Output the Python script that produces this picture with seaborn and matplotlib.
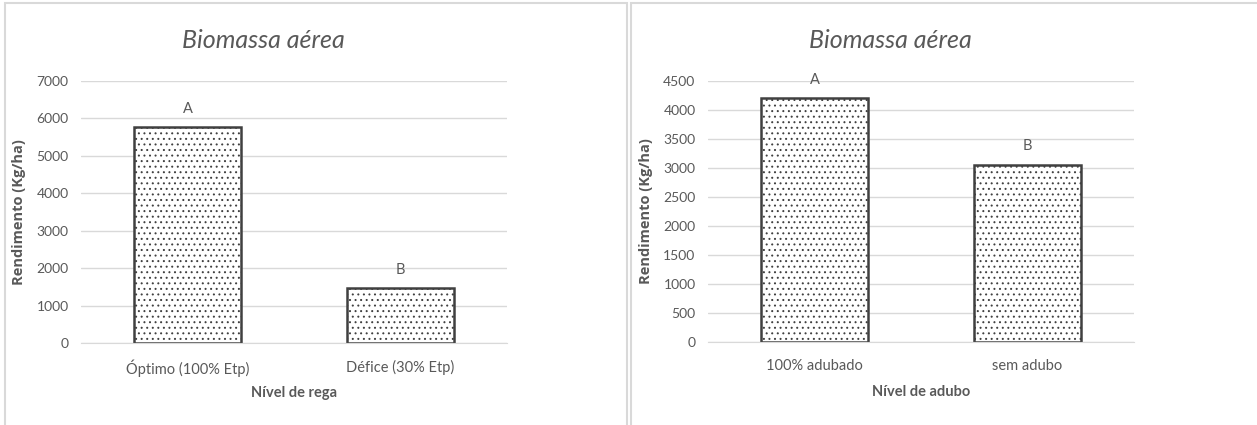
import pandas as pd
import matplotlib.pyplot as plt
import seaborn as sns
from matplotlib.patches import Rectangle

# dados
rega_niveis = ['Óptimo (100% Etp)', 'Défice (30% Etp)']
rega_valores = [5780, 1470]
rega_letras = ['A', 'B']

adubo_niveis = ['100% adubado', 'sem adubo']
adubo_valores = [4200, 3060]
adubo_letras = ['A', 'B']

sns.set_style('white')
plt.rcParams['font.family'] = ['Lato', 'DejaVu Sans']
plt.rcParams['hatch.linewidth'] = 0.7
cinza = '#595959'
grelha = '#d9d9d9'

fig = plt.figure(figsize=(12.57, 4.25), dpi=100)

# molduras dos dois gráficos
fig.patches.append(Rectangle((5 / 1257, -0.01), 622 / 1257, 1 - 3 / 425 + 0.01,
                             transform=fig.transFigure, fill=False,
                             edgecolor=grelha, lw=1.5))
fig.patches.append(Rectangle((631 / 1257, -0.01), 630 / 1257, 1 - 3 / 425 + 0.01,
                             transform=fig.transFigure, fill=False,
                             edgecolor=grelha, lw=1.5))


def grafico(pos, niveis, valores, letras, ymax, passo, xlabel):
    ax = fig.add_axes(pos)
    df = pd.DataFrame({'nivel': niveis, 'valor': valores})
    sns.barplot(x='nivel', y='valor', data=df, ax=ax, width=0.5,
                color='white', edgecolor='#404040', linewidth=1.8)
    for p in ax.patches:
        p.set_hatch('...')
    for i, (v, l) in enumerate(zip(valores, letras)):
        ax.annotate(l, (i, v), xytext=(0, 13), textcoords='offset points',
                    ha='center', va='center', fontsize=10.5, color=cinza)
    ax.set_ylim(0, ymax)
    ax.set_yticks(range(0, ymax + 1, passo))
    ax.yaxis.grid(True, color=grelha, lw=1)
    ax.set_axisbelow(True)
    for s in ['top', 'right', 'left']:
        ax.spines[s].set_visible(False)
    ax.spines['bottom'].set_color(grelha)
    ax.tick_params(axis='y', length=0, pad=9, labelsize=10, labelcolor=cinza)
    ax.tick_params(axis='x', length=0, pad=12, labelsize=10.5, labelcolor=cinza)
    ax.set_title('Biomassa aérea', fontsize=18, style='italic', color=cinza,
                 pad=24, x=0.427)
    ax.set_ylabel('Rendimento (Kg/ha)', fontsize=10.5, fontweight='bold',
                  color=cinza, family=['Open Sans', 'DejaVu Sans'])
    ax.yaxis.set_label_coords(-0.13, 0.5)
    ax.set_xlabel(xlabel, fontsize=10.5, fontweight='bold', color=cinza)
    ax.xaxis.set_label_coords(0.5, -0.165)
    return ax


grafico([81 / 1257, 0.193, 0.339, 0.6165], rega_niveis, rega_valores, rega_letras,
        7000, 1000, 'Nível de rega')
grafico([708 / 1257, 0.1953, 0.339, 0.614], adubo_niveis, adubo_valores, adubo_letras,
        4500, 500, 'Nível de adubo')

plt.savefig('out.png', dpi=100)
